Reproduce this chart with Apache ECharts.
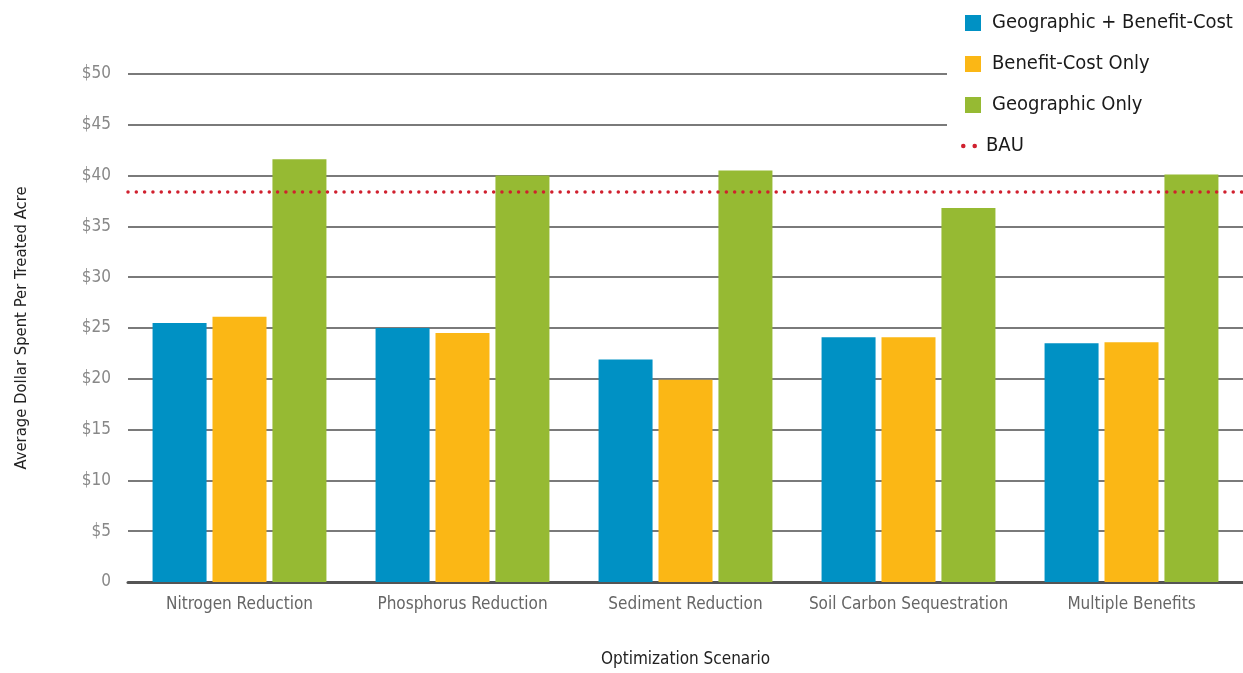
<!DOCTYPE html>
<html>
<head>
<meta charset="utf-8">
<script src="https://cdn.jsdelivr.net/npm/echarts@6/dist/echarts.min.js"></script>
<style>
  html, body { margin: 0; padding: 0; background: #fff; }
  #chart { width: 1243px; height: 673px; }
</style>
</head>
<body>
<div id="chart"></div>
<script>
// Average dollars spent per treated acre, by optimization scenario
const categories = ['Nitrogen Reduction', 'Phosphorus Reduction', 'Sediment Reduction', 'Soil Carbon Sequestration', 'Multiple Benefits'];
const geoBenefitCost = [25.5, 25.0, 21.9, 24.1, 23.5];
const benefitCostOnly = [26.1, 24.5, 19.9, 24.1, 23.6];
const geographicOnly = [41.6, 40.0, 40.5, 36.8, 40.1];
const bauValue = 38.4;
const yTicks = [0, 5, 10, 15, 20, 25, 30, 35, 40, 45, 50];

const FONT = '"Liberation Sans Narrow", "DejaVu Sans Condensed", "Liberation Sans", sans-serif';
const COLORS = ['#0091c4', '#fbb715', '#96ba33'];
const BAU_COLOR = '#d0202e';
const BAU_STYLE = { color: BAU_COLOR, width: 3.5, type: [0.01, 8.3], cap: 'round' };
// two dots, used as the BAU legend marker
const BAU_ICON = 'path://M0,2a2,2 0 1,0 4,0a2,2 0 1,0 -4,0z M10,2a2,2 0 1,0 4,0a2,2 0 1,0 -4,0z';

const chart = echarts.init(document.getElementById('chart'));

function barSeries(name, data, color) {
  return {
    name: name,
    type: 'bar',
    data: data,
    barWidth: 54,
    barGap: '11%',
    itemStyle: { color: color },
    emphasis: { disabled: true }
  };
}

chart.setOption({
  animation: false,
  textStyle: { fontFamily: FONT },
  grid: { left: 128, right: 0, top: 74, bottom: 79 },
  legend: [
    {
      data: ['Geographic + Benefit-Cost', 'Benefit-Cost Only', 'Geographic Only'],
      orient: 'vertical',
      left: 947,
      top: 3,
      padding: [10, 40, 20, 18],
      itemWidth: 16,
      itemHeight: 16,
      itemGap: 21,
      backgroundColor: '#fff',
      icon: 'rect',
      textStyle: { fontFamily: FONT, fontSize: 20, color: '#1a1a1a', padding: [0, 0, 0, 6] },
      selectedMode: false
    },
    {
      data: [{ name: 'BAU', icon: BAU_ICON }],
      orient: 'vertical',
      left: 947,
      top: 128,
      padding: [8, 12, 8, 14],
      itemWidth: 16,
      itemHeight: 6,
      itemStyle: { color: BAU_COLOR, borderWidth: 0 },
      backgroundColor: '#fff',
      textStyle: { fontFamily: FONT, fontSize: 20, color: '#1a1a1a', padding: [0, 0, 0, 4] },
      selectedMode: false
    }
  ],
  xAxis: {
    type: 'category',
    data: categories,
    name: 'Optimization Scenario',
    nameLocation: 'middle',
    nameGap: 69,
    nameTextStyle: { fontFamily: FONT, fontSize: 17, color: '#222' },
    axisLine: { lineStyle: { color: '#555', width: 3 } },
    axisTick: { show: false },
    axisLabel: { fontFamily: FONT, fontSize: 17, color: '#666', margin: 14, interval: 0 }
  },
  yAxis: {
    type: 'value',
    min: yTicks[0],
    max: yTicks[yTicks.length - 1],
    interval: yTicks[1] - yTicks[0],
    name: 'Average Dollar Spent Per Treated Acre',
    nameLocation: 'middle',
    nameGap: 98,
    nameTextStyle: { fontFamily: FONT, fontSize: 16.5, color: '#222' },
    axisLine: { show: false },
    axisTick: { show: false },
    splitLine: { lineStyle: { color: '#7a7a7a', width: 2 } },
    axisLabel: {
      fontFamily: FONT, fontSize: 17, color: '#888', margin: 17,
      formatter: v => (v === 0 ? '0' : '$' + v)
    }
  },
  series: [
    barSeries('Geographic + Benefit-Cost', geoBenefitCost, COLORS[0]),
    barSeries('Benefit-Cost Only', benefitCostOnly, COLORS[1]),
    barSeries('Geographic Only', geographicOnly, COLORS[2]),
    {
      name: 'BAU',
      type: 'line',
      data: [],
      symbol: 'none',
      itemStyle: { color: BAU_COLOR },
      lineStyle: BAU_STYLE,
      z: 5,
      markLine: {
        silent: true,
        symbol: 'none',
        label: { show: false },
        lineStyle: BAU_STYLE,
        data: [{ yAxis: bauValue }]
      }
    }
  ]
});
</script>
</body>
</html>
